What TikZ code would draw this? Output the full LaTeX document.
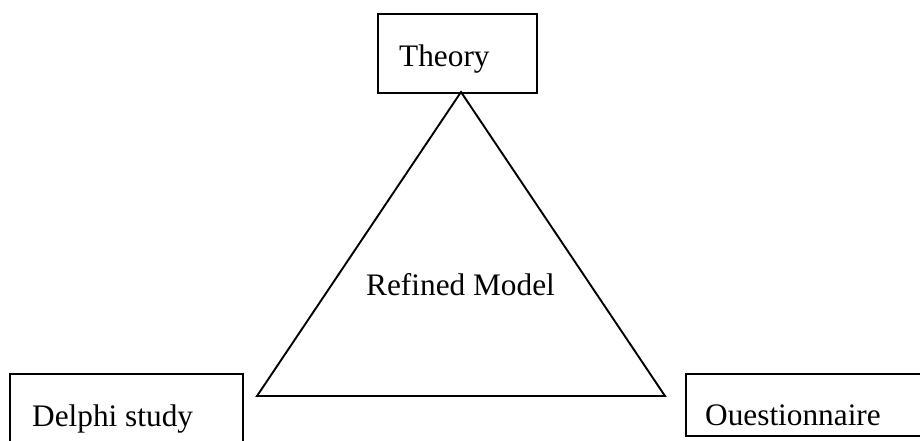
\documentclass[tikz,border=0pt]{standalone}
\usepackage{fontspec}
\setmainfont{Liberation Serif}
\begin{document}
\begin{tikzpicture}[x=1pt,y=-1pt,
  box/.style={draw, line width=1.9pt, inner sep=0pt, anchor=north west},
  lbl/.style={inner sep=0pt, anchor=base west, font=\fontsize{31.3}{36}\selectfont},
  edge/.style={draw, line width=1.9pt, line join=miter}]
\useasboundingbox (0,0) rectangle (920,441);
\clip (0,0) rectangle (920,441);
% boxes
\node[box, minimum width=159pt, minimum height=79pt] (theorybox) at (377,13) {};
\node[box, minimum width=233pt, minimum height=100pt] (delphibox) at (9,373) {};
\node[box, minimum width=260pt, minimum height=62pt] (questbox) at (685,373) {};
% labels
\node[lbl] (theory) at (399,67) {Theory};
\node[lbl] (refined) at (366,295) {Refined Model};
\node[lbl] (delphi) at (32,426) {Delphi study};
\node[lbl] (quest) at (705,425) {Ouestionnaire};
% triangle
\coordinate (apex) at (461,92);
\coordinate (bl) at (257,396);
\coordinate (br) at (665,396);
\draw[edge] (apex) -- (bl) -- (br) -- cycle;
\end{tikzpicture}
\end{document}
